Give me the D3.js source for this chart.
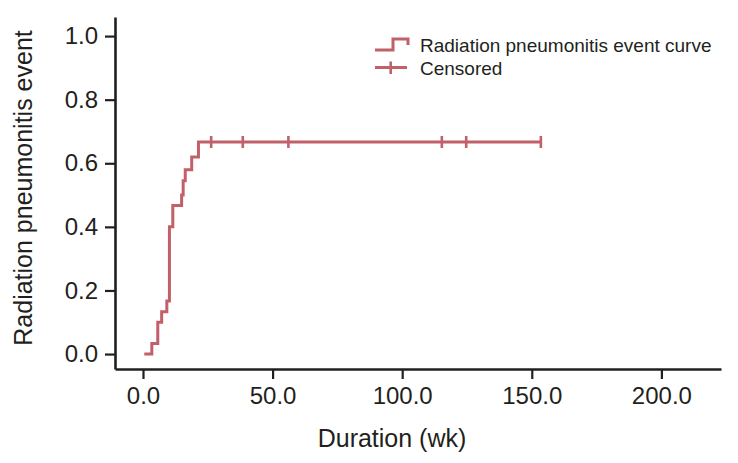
<!DOCTYPE html>
<html>
<head>
<meta charset="utf-8">
<script src="https://cdn.jsdelivr.net/npm/d3@7/dist/d3.min.js"></script>
<style>
  html, body { margin: 0; padding: 0; background: #fff; }
  svg { display: block; }
  text { font-family: "Liberation Sans", Arial, sans-serif; fill: #231f20; }
</style>
</head>
<body>
<svg id="chart" width="738" height="463"></svg>
<script>
// Event curve (Kaplan-Meier style cumulative event), time in weeks
const curveTimes  = [0.5, 3.4, 5.7, 7.2, 9.2, 10.2, 11.5, 14.9, 15.5, 16.3, 18.8, 21.4, 153.5];
const curveValues = [0, 0.033, 0.1, 0.133, 0.167, 0.4, 0.467, 0.5, 0.545, 0.58, 0.62, 0.667, 0.667];
// Censored observations (weeks)
const censoredTimes = [26.3, 38.5, 56.1, 115.3, 124.7, 153.5];
const censoredValue = 0.667;
// Axis ticks
const xTicks = [0, 50, 100, 150, 200];
const yTicks = [0, 0.2, 0.4, 0.6, 0.8, 1.0];
const legendLabels = ["Radiation pneumonitis event curve", "Censored"];
const xTitle = "Duration (wk)";
const yTitle = "Radiation pneumonitis event";

const color = "#c2606a";
const ink = "#231f20";

const svg = d3.select("#chart");
const x = d3.scaleLinear().domain([-10.8, 223]).range([115, 721]);
const y = d3.scaleLinear().domain([-0.047, 1.06]).range([369, 17]);

// Axes
const xAxis = d3.axisBottom(x).tickValues(xTicks).tickFormat(d3.format(".1f"))
  .tickSizeInner(10).tickSizeOuter(0).tickPadding(8);
const yAxis = d3.axisLeft(y).tickValues(yTicks).tickFormat(d3.format(".1f"))
  .tickSizeInner(10).tickSizeOuter(0).tickPadding(7);

const gx = svg.append("g").attr("transform", `translate(0,${y.range()[0]})`).call(xAxis);
const gy = svg.append("g").attr("transform", `translate(${x.range()[0]},0)`).call(yAxis);

[gx, gy].forEach(g => {
  g.select(".domain").attr("stroke", ink).attr("stroke-width", 2.6);
  g.selectAll(".tick line").attr("stroke", ink).attr("stroke-width", 2.2);
  g.selectAll(".tick text").style("font-size", "24px").attr("fill", ink)
    .style("font-family", "'Liberation Sans', Arial, sans-serif");
});

// Curve
const pts = curveTimes.map((t, i) => [t, curveValues[i]]);
const line = d3.line().x(d => x(d[0])).y(d => y(d[1])).curve(d3.curveStepAfter);
svg.append("path").datum(pts)
  .attr("d", line)
  .attr("fill", "none").attr("stroke", color).attr("stroke-width", 3)
  .attr("stroke-linejoin", "miter").attr("stroke-linecap", "butt");

// Censor marks
svg.append("g").selectAll("line").data(censoredTimes).join("line")
  .attr("x1", d => x(d)).attr("x2", d => x(d))
  .attr("y1", y(censoredValue) - 6).attr("y2", y(censoredValue) + 6)
  .attr("stroke", color).attr("stroke-width", 2.6);

// Axis titles
svg.append("text").attr("x", 392).attr("y", 447).attr("text-anchor", "middle")
  .style("font-size", "25px").text(xTitle);
svg.append("text").attr("transform", "translate(32,188) rotate(-90)").attr("text-anchor", "middle")
  .style("font-size", "25px").text(yTitle);

// Legend
const lg = svg.append("g");
lg.append("path").attr("d", "M375,50 H393 V39 H408 V45")
  .attr("fill", "none").attr("stroke", color).attr("stroke-width", 3);
lg.append("line").attr("x1", 375).attr("x2", 407).attr("y1", 67.5).attr("y2", 67.5)
  .attr("stroke", color).attr("stroke-width", 3);
lg.append("line").attr("x1", 390.7).attr("x2", 390.7).attr("y1", 61.5).attr("y2", 74)
  .attr("stroke", color).attr("stroke-width", 2.6);
lg.append("text").attr("x", 420).attr("y", 51.5).style("font-size", "19px").text(legendLabels[0]);
lg.append("text").attr("x", 420).attr("y", 75).style("font-size", "19px").text(legendLabels[1]);
</script>
</body>
</html>
